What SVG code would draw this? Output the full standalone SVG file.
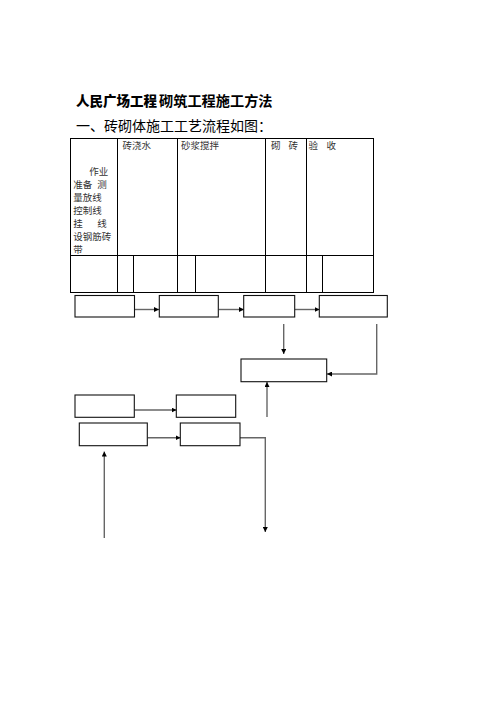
<svg xmlns="http://www.w3.org/2000/svg" width="496" height="702" viewBox="0 0 496 702">
<style>
.t{font-family:"Noto Sans CJK SC","Liberation Serif",serif;fill:#000}
.cell{font-family:"Noto Sans CJK SC","Liberation Serif",serif;font-size:9.5px;fill:#333}
.tb{fill:none;stroke:#000;stroke-width:1}
.box{fill:#fff;stroke:#111;stroke-width:1.1}
.con{fill:none;stroke:#666;stroke-width:1.4}
</style>
<defs>
<marker id="ah" viewBox="0 0 6 6" refX="6" refY="3" markerWidth="5" markerHeight="5" markerUnits="userSpaceOnUse" orient="auto">
<path d="M0,0 L6,3 L0,6 Z" fill="#000"/>
</marker>
</defs>
<rect width="496" height="702" fill="#fff"/>
<g id="title">
<text class="t" x="76" y="105.5" font-size="13.5" font-weight="900">人民广场工程</text>
<text class="t" x="159" y="105.5" font-size="14.2" font-weight="700">砌筑工程施工方法</text>
<text class="t" x="76" y="131" font-size="14">一、砖砌体施工工艺流程如图：</text>
</g>
<g id="table">
<rect class="tb" x="70.5" y="138.5" width="303" height="154"/>
<line class="tb" x1="70" y1="255.5" x2="374" y2="255.5"/>
<line class="tb" x1="117.5" y1="138" x2="117.5" y2="293"/>
<line class="tb" x1="177.5" y1="138" x2="177.5" y2="293"/>
<line class="tb" x1="265.5" y1="138" x2="265.5" y2="293"/>
<line class="tb" x1="306.5" y1="138" x2="306.5" y2="293"/>
<line class="tb" x1="133.5" y1="255" x2="133.5" y2="293"/>
<line class="tb" x1="195.5" y1="255" x2="195.5" y2="293"/>
<line class="tb" x1="322.5" y1="255" x2="322.5" y2="293"/>
<text class="cell" x="122.5" y="148.5">砖浇水</text>
<text class="cell" x="181" y="148.5">砂浆搅拌</text>
<text class="cell" x="271" y="148.5">砌</text>
<text class="cell" x="288.5" y="148.5">砖</text>
<text class="cell" x="308.5" y="148.5">验</text>
<text class="cell" x="326.5" y="148.5">收</text>
<text class="cell" x="89.3" y="175.2">作业</text>
<text class="cell" x="73.3" y="188.1">准备</text>
<text class="cell" x="97.3" y="188.1">测</text>
<text class="cell" x="73.3" y="201">量放线</text>
<text class="cell" x="73.3" y="213.9">控制线</text>
<text class="cell" x="73.3" y="226.8">挂</text>
<text class="cell" x="97.3" y="226.8">线</text>
<text class="cell" x="73.3" y="239.7">设钢筋砖</text>
<text class="cell" x="73.3" y="252.6">带</text>
</g>
<g id="connectors">
<line class="con" x1="134.5" y1="309.5" x2="159" y2="309.5" marker-end="url(#ah)"/>
<line class="con" x1="218.5" y1="309.5" x2="244" y2="309.5" marker-end="url(#ah)"/>
<line class="con" x1="295" y1="309.5" x2="319.5" y2="309.5" marker-end="url(#ah)"/>
<line class="con" x1="283.7" y1="324" x2="283.7" y2="354" marker-end="url(#ah)"/>
<polyline class="con" points="376.7,324 376.7,374 327,374" marker-end="url(#ah)"/>
<line class="con" x1="267" y1="417" x2="267" y2="382" marker-end="url(#ah)"/>
<line class="con" x1="134.5" y1="410" x2="176.5" y2="410" marker-end="url(#ah)"/>
<line class="con" x1="147.5" y1="437.7" x2="180.5" y2="437.7" marker-end="url(#ah)"/>
<polyline class="con" points="240,437.7 265.3,437.7 265.3,532" marker-end="url(#ah)"/>
<line class="con" x1="104.3" y1="538" x2="104.3" y2="451.5" marker-end="url(#ah)"/>
</g>
<g id="node1"><rect class="box" x="75" y="295.5" width="59.5" height="21.5"/></g>
<g id="node2"><rect class="box" x="159.3" y="295.5" width="59" height="21.5"/></g>
<g id="node3"><rect class="box" x="243.7" y="295.5" width="51" height="21.5"/></g>
<g id="node4"><rect class="box" x="319.3" y="295.5" width="68" height="21.5"/></g>
<g id="node5"><rect class="box" x="241" y="359" width="85.7" height="22.7"/></g>
<g id="node6"><rect class="box" x="75" y="395" width="59.3" height="22.3"/></g>
<g id="node7"><rect class="box" x="176.3" y="395" width="59.4" height="22.3"/></g>
<g id="node8"><rect class="box" x="79.3" y="423" width="68" height="22.7"/></g>
<g id="node9"><rect class="box" x="180.3" y="423" width="59.7" height="22.7"/></g>
</svg>
